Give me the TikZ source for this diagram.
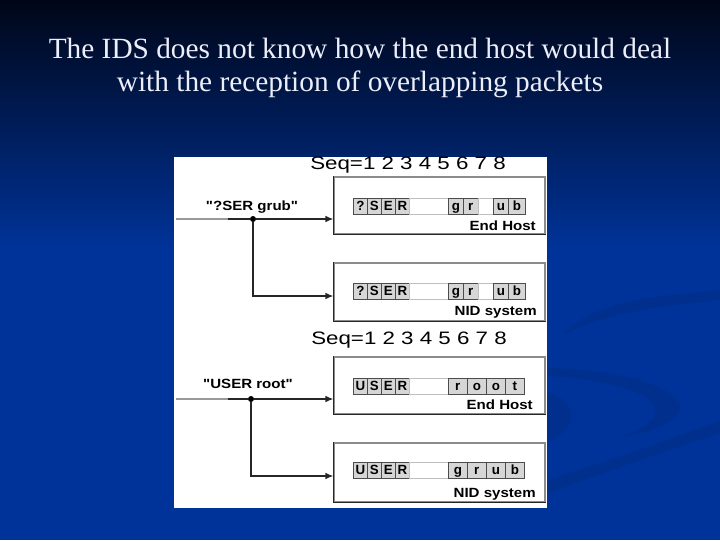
\documentclass[tikz,border=0pt]{standalone}
\usepackage{fontspec}
\setmainfont{Liberation Serif}
\newfontfamily\figsans{Liberation Sans}
\usetikzlibrary{arrows.meta}

\definecolor{slidetop}{RGB}{0,6,24}
\definecolor{slideblue}{RGB}{0,51,153}
\definecolor{titlewhite}{RGB}{236,238,250}
\definecolor{cellgray}{RGB}{214,214,214}

\tikzset{
  titletag/.style={anchor=base, inner sep=0pt, text=titlewhite, font=\fontsize{22}{24}\selectfont},
  hostbox/.style={draw=black!45, line width=0.8pt, fill=white, minimum width=158.25pt, inner sep=0pt},
  boxedge/.style={line width=1.1pt, black!85},
  pfull/.style={draw=black!70, fill=cellgray, line width=0.5pt, minimum height=12pt, inner sep=0pt, anchor=west,
    text height=7.2pt, text depth=0pt, font=\figsans\bfseries\fontsize{10}{10}\selectfont},
  pgap/.style={draw=black!25, fill=white, line width=0.5pt, minimum height=12pt, inner sep=0pt, anchor=west},
  datatag/.style={inner sep=0pt, font=\figsans\bfseries\fontsize{10}{10}\selectfont},
  boxtag/.style={datatag, anchor=east},
  seqtag/.style={inner sep=0pt, font=\figsans\fontsize{13.5}{13.5}\selectfont},
  wire/.style={line width=1.1pt, black!85},
  flow/.style={wire, -{Latex[length=6pt,width=5pt]}},
  junction/.style={circle, fill=black, inner sep=0pt, minimum size=4.5pt},
  swoosh/.style={fill=black, fill opacity=0.07}
}

% stretched lettering of the scanned figure
\newcommand{\wide}[1]{\scalebox{1.13}[1]{#1}}
\newcommand{\seqwide}[1]{\scalebox{1.24}[1]{#1}}

% one row of packet cells: #1 name, #2 centre y, #3 x/width/letter/style
\newcommand{\packetrow}[3]{%
  \foreach \cx/\cw/\ch/\cs [count=\k] in {#3}
    \node[\cs, minimum width={\cw*0.75pt}] (#1-\k) at (\cx,#2) {\ch};
}

\begin{document}
\begin{tikzpicture}[x=0.75pt,y=0.75pt,yscale=-1,xscale=1]
\useasboundingbox (0,0) rectangle (720,540);

%Shape: Background
\fill[slideblue] (0,0) rectangle (720,540);
\shade[top color=slidetop, bottom color=slideblue] (0,0) rectangle (720,250);

%Shape: Swooshes
\fill[swoosh] (562,336) .. controls (590,300) and (660,296) .. (720,290) -- (720,300) .. controls (660,306) and (600,314) .. (562,336) -- cycle ;
\fill[swoosh] (548,368) .. controls (640,370) and (695,395) .. (677,415) .. controls (668,427) and (645,433) .. (622,437) .. controls (650,426) and (668,412) .. (645,397) .. controls (625,385) and (585,378) .. (548,376) -- cycle ;
\fill[swoosh] (547,392) .. controls (580,402) and (580,428) .. (547,442) -- cycle ;
\fill[swoosh] (547,480) .. controls (610,460) and (670,440) .. (720,420) -- (720,433) .. controls (670,450) and (610,470) .. (547,494) -- cycle ;

% Text Node
\node[titletag] (title1) at (360,58) {The IDS does not know how the end host would deal};
% Text Node
\node[titletag] (title2) at (360,91) {with the reception of overlapping packets};

%Shape: Panel
\fill[white] (174,157) rectangle (547,508);

%Shape: Hosts
\node[hostbox, minimum height=42.75pt] (hostA) at (439.5,205.5) {};
\node[hostbox, minimum height=43.5pt] (nidA) at (439.5,292) {};
\node[hostbox, minimum height=42.75pt] (hostB) at (439.5,385.5) {};
\node[hostbox, minimum height=44.25pt] (nidB) at (439.5,472.5) {};
\foreach \b in {hostA,nidA,hostB,nidB}
  \draw[boxedge] (\b.north west) |- (\b.south east);

%Shape: Packets
\packetrow{cellA}{206}{353/14/?/pfull, 367/14/S/pfull, 381/14/E/pfull, 395/14/R/pfull, 409/39//pgap, 448/15/g/pfull, 463/15/r/pfull, 478/15//pgap, 493/15/u/pfull, 508/17/b/pfull}
\packetrow{cellNA}{291}{353/14/?/pfull, 367/14/S/pfull, 381/14/E/pfull, 395/14/R/pfull, 409/39//pgap, 448/15/g/pfull, 463/15/r/pfull, 478/15//pgap, 493/15/u/pfull, 508/17/b/pfull}
\packetrow{cellB}{386}{353/14/U/pfull, 367/14/S/pfull, 381/14/E/pfull, 395/14/R/pfull, 409/39//pgap, 448/19/r/pfull, 467/19/o/pfull, 486/19/o/pfull, 505/19/t/pfull}
\packetrow{cellNB}{470}{353/14/U/pfull, 367/14/S/pfull, 381/14/E/pfull, 395/14/R/pfull, 409/39//pgap, 448/19/g/pfull, 467/19/r/pfull, 486/19/u/pfull, 505/19/b/pfull}

%Straight Lines: first stream
\coordinate (inA) at (176,219);
\coordinate (fadeA) at (228,219);
\node[junction] (splitA) at (253,219) {};
\coordinate (turnA) at (253,296);
\draw[wire, black!40] (inA) -- (fadeA);
\draw[wire] (fadeA) -- (splitA);
\draw[flow] (splitA) -- (hostA.west |- splitA);
\draw[flow] (splitA) -- (turnA) -- (nidA.west |- turnA);

%Straight Lines: second stream
\coordinate (inB) at (176,399);
\coordinate (fadeB) at (228,399);
\node[junction] (splitB) at (251,399) {};
\coordinate (turnB) at (251,476);
\draw[wire, black!40] (inB) -- (fadeB);
\draw[wire] (fadeB) -- (splitB);
\draw[flow] (splitB) -- (hostB.west |- splitB);
\draw[flow] (splitB) -- (turnB) -- (nidB.west |- turnB);

% Text Node
\node[datatag] (dataA) at (252,207) {\wide{"?SER grub"}};
% Text Node
\node[datatag] (dataB) at (248,384) {\wide{"USER root"}};
% Text Node
\node[seqtag] (seqA) at (408,165) {\seqwide{Seq=1 2 3 4 5 6 7 8}};
% Text Node
\node[seqtag] (seqB) at (409,340) {\seqwide{Seq=1 2 3 4 5 6 7 8}};
% Text Node
\node[boxtag] (tagA) at (536,226) {\wide{End Host}};
% Text Node
\node[boxtag] (tagNA) at (537,312) {\wide{NID system}};
% Text Node
\node[boxtag] (tagB) at (533,405) {\wide{End Host}};
% Text Node
\node[boxtag] (tagNB) at (536,494) {\wide{NID system}};

\end{tikzpicture}
\end{document}
